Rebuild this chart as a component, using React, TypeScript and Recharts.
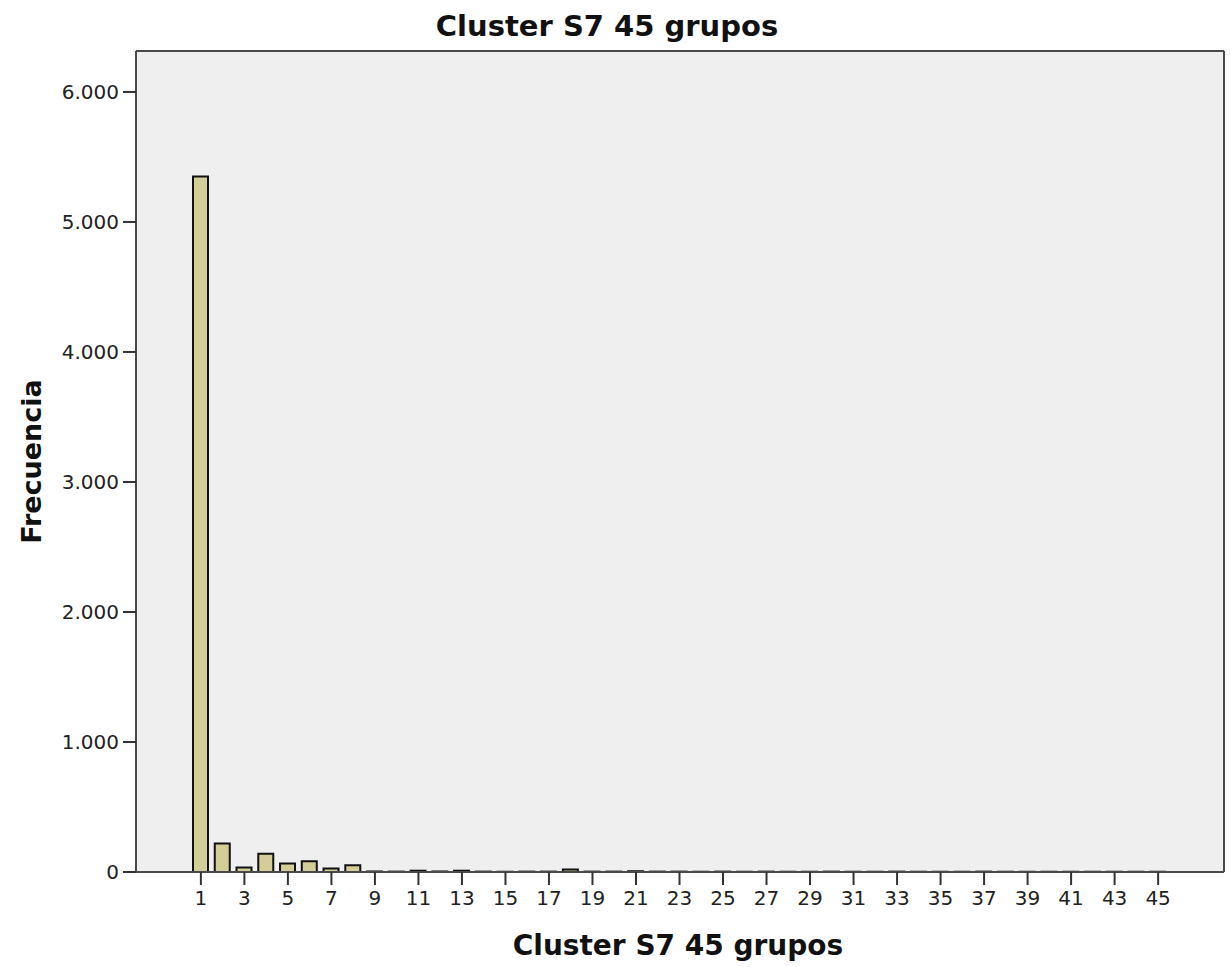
import { Bar, BarChart, CartesianGrid, Label, XAxis, YAxis } from "recharts";

// grupos del cluster S7 (1..45)
const categories = [
  1, 2, 3, 4, 5, 6, 7, 8, 9, 10, 11, 12, 13, 14, 15, 16, 17, 18, 19, 20, 21, 22, 23,
  24, 25, 26, 27, 28, 29, 30, 31, 32, 33, 34, 35, 36, 37, 38, 39, 40, 41, 42, 43, 44, 45,
];

// frecuencia por grupo
const frequencies = [
  5350, 220, 35, 140, 65, 82, 26, 52, 4, 3, 10, 4, 10, 3, 2, 3, 3, 20, 3, 3, 6, 3, 3,
  2, 3, 2, 3, 2, 2, 3, 2, 2, 3, 2, 2, 2, 3, 2, 2, 2, 2, 2, 2, 2, 2,
];

const yTicks = [0, 1000, 2000, 3000, 4000, 5000, 6000];

const TITLE = "Cluster S7 45 grupos";
const X_LABEL = "Cluster S7 45 grupos";
const Y_LABEL = "Frecuencia";

const FONT = "'DejaVu Sans', Verdana, sans-serif";
const FRAME = "#4a4a4a";
const TEXT = "#222";

const data = categories.map((c, i) => ({ grupo: c, frecuencia: frequencies[i] }));

// 6000 -> "6.000"
const fmtMiles = (v: number) =>
  v === 0 ? "0" : `${Math.floor(v / 1000)}.${String(v % 1000).padStart(3, "0")}`;

export default function App() {
  return (
    <div style={{ position: "absolute", left: 0, top: 0, background: "#fff" }}>
      <BarChart
        width={1231}
        height={967}
        data={data}
        margin={{ top: 0, right: 0, bottom: 0, left: 0 }}
        style={{ fontFamily: FONT }}
      >
        <CartesianGrid fill="#efefef" horizontal={false} vertical={false} />
        <XAxis
          dataKey="grupo"
          type="category"
          interval={1}
          height={95}
          padding={{ left: 54, right: 55 }}
          tickSize={13}
          tickMargin={6}
          tick={{ fontSize: 20, fill: TEXT, fontFamily: FONT }}
          axisLine={{ stroke: FRAME, strokeWidth: 2 }}
          tickLine={{ stroke: "#333", strokeWidth: 2 }}
        >
          <Label
            content={({ viewBox }: any) => (
              <text
                x={viewBox.x + viewBox.width / 2 - 2}
                y={955}
                textAnchor="middle"
                fontSize={28}
                fontWeight="bold"
                fontFamily={FONT}
                fill="#111"
              >
                {X_LABEL}
              </text>
            )}
          />
        </XAxis>
        <XAxis
          xAxisId="top"
          dataKey="grupo"
          orientation="top"
          height={51}
          tick={false}
          tickLine={false}
          axisLine={{ stroke: FRAME, strokeWidth: 2 }}
        >
          <Label
            content={() => (
              <text
                x={607}
                y={36}
                textAnchor="middle"
                fontSize={29}
                fontWeight="bold"
                fontFamily={FONT}
                fill="#111"
              >
                {TITLE}
              </text>
            )}
          />
        </XAxis>
        <YAxis
          width={136}
          domain={[0, 6315]}
          ticks={yTicks}
          tickFormatter={fmtMiles}
          tickSize={13}
          tickMargin={4}
          tick={{ fontSize: 20, fill: TEXT, fontFamily: FONT }}
          axisLine={{ stroke: FRAME, strokeWidth: 2 }}
          tickLine={{ stroke: "#333", strokeWidth: 2 }}
        >
          <Label
            content={({ viewBox }: any) => {
              const cy = viewBox.y + viewBox.height / 2;
              return (
                <text
                  x={41}
                  y={cy}
                  transform={`rotate(-90, 41, ${cy})`}
                  textAnchor="middle"
                  fontSize={27}
                  fontWeight="bold"
                  fontFamily={FONT}
                  fill="#111"
                >
                  {Y_LABEL}
                </text>
              );
            }}
          />
        </YAxis>
        <YAxis
          yAxisId="right"
          orientation="right"
          width={7}
          domain={[0, 6315]}
          tick={false}
          tickLine={false}
          axisLine={{ stroke: FRAME, strokeWidth: 2 }}
        />
        <Bar
          dataKey="frecuencia"
          fill="#d3cd97"
          stroke="#111"
          strokeWidth={2}
          barSize={15}
          isAnimationActive={false}
        />
      </BarChart>
    </div>
  );
}
